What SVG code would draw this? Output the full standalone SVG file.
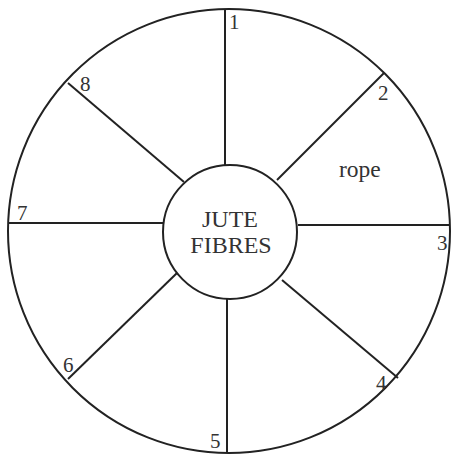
<svg xmlns="http://www.w3.org/2000/svg" width="451" height="455" viewBox="0 0 451 455">
  <style>
    .ln { stroke: #222; stroke-width: 2; fill: none; }
    .lbl { font-family: "Liberation Serif", "Times New Roman", serif; font-size: 21px; fill: #333; }
    .title { font-family: "Liberation Serif", "Times New Roman", serif; font-size: 24px; fill: #333; text-anchor: middle; }
  </style>
  <rect width="451" height="455" fill="#fff"/>
  <g id="outer-ring">
    <ellipse class="ln" cx="229" cy="231" rx="221" ry="222"/>
  </g>
  <g id="connectors">
    <line class="ln" x1="225" y1="9" x2="225" y2="165"/>
    <line class="ln" x1="384" y1="73" x2="277" y2="180"/>
    <line class="ln" x1="298" y1="225" x2="450" y2="225"/>
    <line class="ln" x1="398" y1="378" x2="282" y2="280"/>
    <line class="ln" x1="227" y1="299" x2="227" y2="453"/>
    <line class="ln" x1="68" y1="379" x2="177" y2="273"/>
    <line class="ln" x1="8" y1="223" x2="163" y2="223"/>
    <line class="ln" x1="68" y1="83" x2="184" y2="182"/>
  </g>
  <g id="hub">
    <circle class="ln" cx="230" cy="232" r="67" fill="#fff"/>
    <text class="title" x="230" y="227">JUTE</text>
    <text class="title" x="231" y="253">FIBRES</text>
  </g>
  <g id="labels">
    <text class="lbl" x="229" y="29">1</text>
    <text class="lbl" x="378" y="100">2</text>
    <text class="lbl" x="437" y="250">3</text>
    <text class="lbl" x="376" y="390">4</text>
    <text class="lbl" x="210" y="448">5</text>
    <text class="lbl" x="63" y="372">6</text>
    <text class="lbl" x="17" y="220">7</text>
    <text class="lbl" x="80" y="91">8</text>
    <text class="lbl" x="339" y="177" style="font-size:23.5px">rope</text>
  </g>
</svg>
